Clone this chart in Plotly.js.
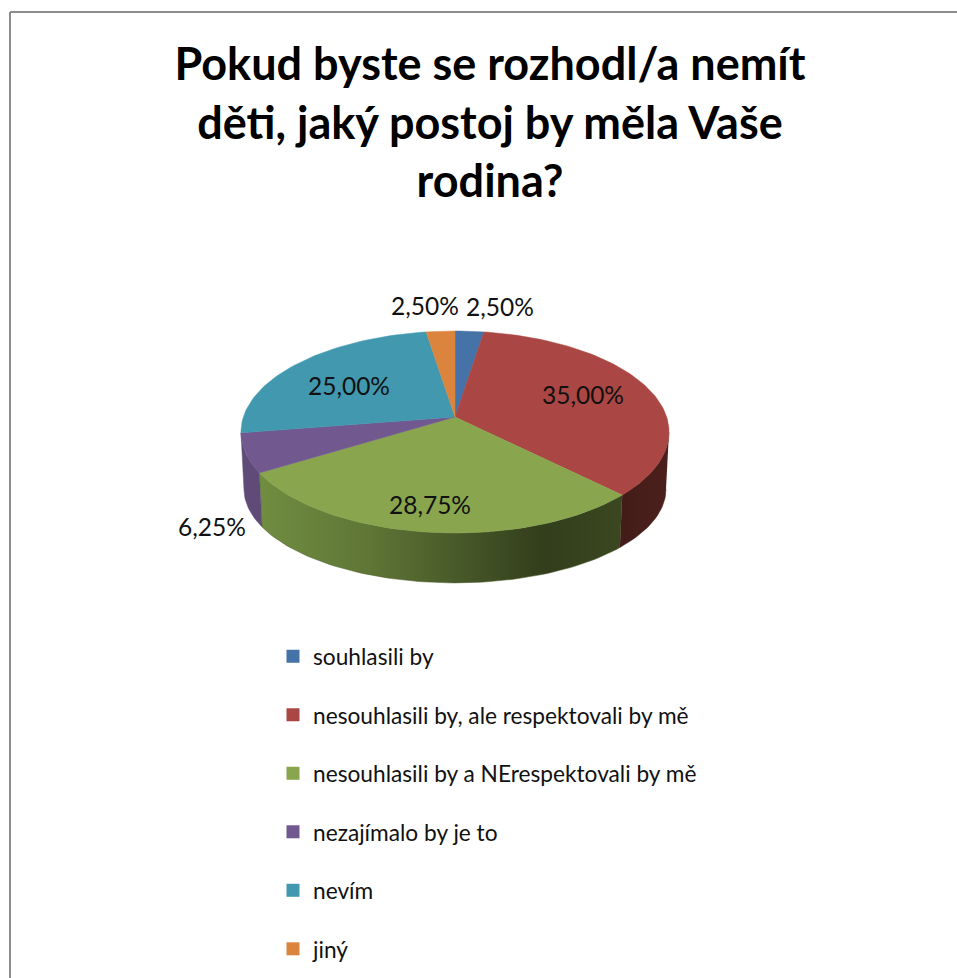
<!DOCTYPE html>
<html><head><meta charset="utf-8">
<script src="https://cdn.plot.ly/plotly-3.0.1.min.js"></script>
<style>html,body{margin:0;padding:0;background:#fff;overflow:hidden}#c{width:957px;height:978px}</style>
</head><body><div id="c"></div>
<script>
const titleText = 'Pokud byste se rozhodl/a nemít<br>děti, jaký postoj by měla Vaše<br>rodina?';
const categories = ['souhlasili by','nesouhlasili by, ale respektovali by mě','nesouhlasili by a NErespektovali by mě','nezajímalo by je to','nevím','jiný'];
const values = [2.5,35,28.75,6.25,25,2.5];
const colors = ['#4572A7','#AA4643','#89A54E','#71588F','#4198AF','#DB843D'];
const labelFont = 'Lato, "Open Sans", sans-serif';

// pixel box of the top ellipse, and the wider plot area around it
const box = {l:241,r:669,t:331,front:533};
const view = {l:160,r:700,t:280,b:600};
const depth = 50/((box.front-box.t)/2);
const tilt = 0.1485;               // perspective shift of the pie apex
const W=957,H=978;
const pxX = p => (p-(box.l+box.r)/2)/((box.r-box.l)/2);
const pxY = p => 1-(p-box.t)/((box.front-box.t)/2);

function topPoint(deg){
  const a=deg*Math.PI/180,u=Math.sin(a),v=Math.cos(a),d=1+tilt*v;
  return [u*Math.sqrt(1-tilt*tilt)/d,(v+tilt)/d];
}
function botPoint(deg){const p=topPoint(deg);return [p[0]*0.986,p[1]*0.93-0.564];}
function arc(a,b,fn){const n=Math.max(2,Math.ceil(Math.abs(b-a)/1.5)),o=[];for(let i=0;i<=n;i++)o.push(fn(a+(b-a)*i/n));return o;}

let cum=0;
const slices=values.map(v=>{const s=cum*3.6;cum+=v;return [s,cum*3.6];});
const leftLimit=261.46,rightLimit=98.54;

const traces=[];
function wall(a,b,fill,lineColor){
  const pts=arc(a,b,topPoint).concat(arc(b,a,botPoint));
  traces.push(Object.assign({type:'scatter',mode:'lines',x:pts.map(p=>p[0]),y:pts.map(p=>p[1]),fill:'toself',
    line:{color:lineColor,width:0.5},showlegend:false,hoverinfo:'skip'},fill));
}
// visible outer walls: red, green, purple
wall(Math.max(slices[1][0],rightLimit),slices[1][1],{fillgradient:{type:'horizontal',start:pxX(620),stop:pxX(669),colorscale:[[0,'#421c18'],[1,'#4c201c']]}},'#421c18');
wall(slices[2][0],slices[2][1],{fillgradient:{type:'horizontal',start:pxX(260),stop:pxX(622),colorscale:[[0,'#708d40'],[0.3,'#5f7636'],[0.78,'#323e1c'],[1,'#3a4720']]}},'#4a5a2a');
wall(slices[3][0],Math.min(slices[3][1],leftLimit),{fillcolor:'#5f4a78'},'#5f4a78');

// top faces
const apex=[0,tilt];
slices.forEach((s,i)=>{
  const pts=[apex].concat(arc(s[0],s[1],topPoint)).concat([apex]);
  traces.push({type:'scatter',mode:'lines',x:pts.map(p=>p[0]),y:pts.map(p=>p[1]),fill:'toself',fillcolor:colors[i],
    line:{color:colors[i],width:0.5},showlegend:false,hoverinfo:'skip',name:categories[i]});
});

// data labels
const labelPx=[[500,310],[583,398],[430,508],[212,530],[349,389],[425,309]];
traces.push({type:'scatter',mode:'text',x:labelPx.map(p=>pxX(p[0])),y:labelPx.map(p=>pxY(p[1])),
  text:values.map(v=>v.toFixed(2).replace('.',',')+'%'),textposition:'middle center',
  textfont:{family:labelFont,size:24.5,color:'#111'},cliponaxis:false,showlegend:false,hoverinfo:'skip'});

// legend entries
categories.forEach((c,i)=>traces.push({type:'scatter',mode:'markers',x:[null],y:[null],name:c,legendgroup:'g'+i,
  marker:{symbol:'square',size:13,color:colors[i]},hoverinfo:'skip'}));

const plotH=view.b-view.t,plotW=view.r-view.l;
const paperX=p=>(p-view.l)/plotW, paperY=p=>(view.b-p)/plotH;
const layout={
  width:W,height:H,paper_bgcolor:'#fff',plot_bgcolor:'rgba(0,0,0,0)',
  margin:{l:view.l,r:W-view.r,t:view.t,b:H-view.b,pad:0,autoexpand:false},
  title:{text:titleText,x:490/W,xanchor:'center',y:1-80/H,yanchor:'top',yref:'container',
    font:{family:labelFont,size:45,color:'#000',weight:700}},
  xaxis:{range:[pxX(view.l),pxX(view.r)],visible:false,fixedrange:true},
  yaxis:{range:[pxY(view.b),pxY(view.t)],visible:false,fixedrange:true},
  showlegend:true,
  legend:{x:paperX(273),xanchor:'left',y:paperY(635),yanchor:'top',tracegroupgap:26,
    font:{family:labelFont,size:22.7,color:'#111'},bgcolor:'rgba(0,0,0,0)',itemclick:false,itemdoubleclick:false},
  shapes:[
    {type:'line',xref:'paper',yref:'paper',x0:paperX(10),x1:paperX(10),y0:paperY(12),y1:paperY(H+5),line:{color:'#8c8c8c',width:2}},
    {type:'line',xref:'paper',yref:'paper',x0:paperX(10),x1:paperX(W+5),y0:paperY(12),y1:paperY(12),line:{color:'#8c8c8c',width:2}}
  ]
};
Plotly.newPlot('c',traces,layout,{displayModeBar:false});
</script></body></html>
